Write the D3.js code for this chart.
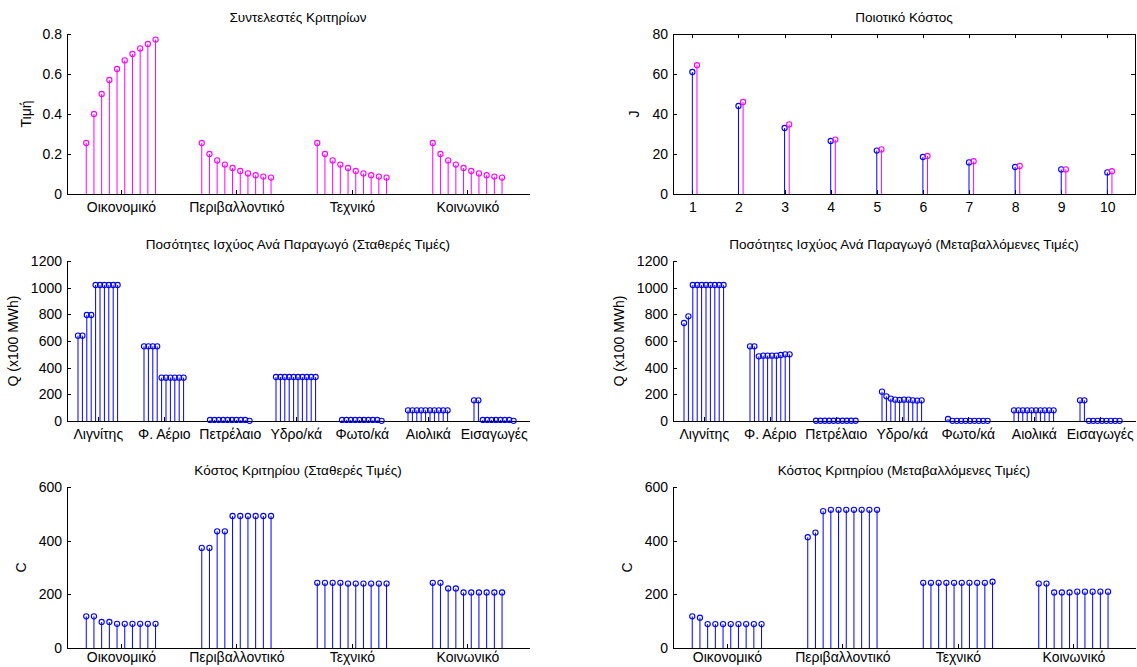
<!DOCTYPE html>
<html>
<head>
<meta charset="utf-8">
<script src="https://cdn.jsdelivr.net/npm/d3@7"></script>
<style>
  body { margin: 0; background: #fff; }
  svg { display: block; font-family: "Liberation Sans", Arial, sans-serif; }
  .axis path, .axis line { stroke: #000; shape-rendering: crispEdges; }
  .axis text { fill: #000; font-size: 14px; }
</style>
</head>
<body>
<svg id="chart"></svg>
<script>
const criteria = ["Οικονομικό", "Περιβαλλοντικό", "Τεχνικό", "Κοινωνικό"];
const producers = ["Λιγνίτης", "Φ. Αέριο", "Πετρέλαιο", "Υδρο/κά", "Φωτο/κά", "Αιολικά", "Εισαγωγές"];
const iterations = [1, 2, 3, 4, 5, 6, 7, 8, 9, 10];

// Συντελεστές Κριτηρίων
const weights = [
    [0.255, 0.40, 0.50, 0.57, 0.625, 0.668, 0.70, 0.728, 0.75, 0.772],
    [0.255, 0.20, 0.168, 0.147, 0.13, 0.115, 0.103, 0.094, 0.087, 0.082],
    [0.255, 0.20, 0.168, 0.147, 0.13, 0.115, 0.103, 0.094, 0.087, 0.082],
    [0.255, 0.20, 0.168, 0.147, 0.13, 0.115, 0.103, 0.094, 0.087, 0.082]
];
// Ποιοτικό Κόστος
const jFixed = [61, 44, 33, 26.5, 21.7, 18.5, 15.8, 13.5, 12.3, 10.8];
const jVar = [64.4, 46, 34.8, 27.2, 22.3, 19, 16.4, 14, 12.3, 11.4];
// Ποσότητες Ισχύος (Σταθερές)
const qFixed = [
    [640, 640, 795, 795, 1020, 1020, 1020, 1020, 1020, 1020],
    [560, 560, 560, 560, 325, 325, 325, 325, 325, 325],
    [8, 8, 8, 8, 8, 8, 8, 8, 8, 1],
    [330, 330, 330, 330, 330, 330, 330, 330, 330, 330],
    [8, 8, 8, 8, 8, 8, 8, 8, 8, 1],
    [80, 80, 80, 80, 80, 80, 80, 80, 80, 80],
    [155, 155, 8, 8, 8, 8, 8, 8, 8, 1]
];
// Ποσότητες Ισχύος (Μεταβαλλόμενες)
const qVar = [
    [735, 785, 1020, 1020, 1020, 1020, 1020, 1020, 1020, 1020],
    [560, 560, 485, 490, 490, 490, 490, 495, 500, 500],
    [2, 2, 2, 2, 2, 2, 2, 2, 2, 2],
    [220, 185, 168, 160, 158, 160, 160, 155, 153, 155],
    [15, 1, 1, 1, 1, 1, 1, 1, 1, 1],
    [80, 80, 80, 80, 80, 80, 80, 80, 80, 80],
    [155, 155, 1, 1, 1, 1, 1, 1, 1, 1]
];
// Κόστος Κριτηρίου
const cFixed = [
    [118, 118, 97, 97, 90, 90, 90, 90, 90, 90],
    [373, 373, 435, 435, 492, 492, 492, 492, 492, 492],
    [243, 243, 243, 243, 240, 240, 240, 240, 240, 240],
    [243, 243, 222, 222, 207, 207, 207, 207, 207, 207]
];
const cVar = [
    [118, 113, 89, 89, 89, 89, 89, 89, 89, 89],
    [413, 430, 510, 515, 515, 515, 515, 515, 515, 515],
    [243, 243, 243, 243, 243, 243, 243, 243, 243, 247],
    [240, 240, 207, 207, 207, 210, 210, 210, 210, 210]
];
const weightTicks = [0, 0.2, 0.4, 0.6, 0.8];
const jTicks = [0, 20, 40, 60, 80];
const qTicks = [0, 200, 400, 600, 800, 1000, 1200];
const cTicks = [0, 200, 400, 600];

const WIDTH = 1137, HEIGHT = 667;
const BLUE = "#0000ff", MAGENTA = "#ff00ff";
const GROUP = 15; // x units per group

const SVG = d3.select("#chart").attr("width", WIDTH).attr("height", HEIGHT);

function drawAxes(g, x, y, o) {
    g.append("g")
        .attr("class", "axis")
        .attr("transform", "translate(0," + o.bottom + ")")
        .call(d3.axisBottom(x).tickValues(o.xTicks).tickFormat(o.xFormat)
            .tickSizeInner(-4).tickSizeOuter(0).tickPadding(o.xPad || 8));
    g.append("g")
        .attr("class", "axis")
        .attr("transform", "translate(" + o.left + ",0)")
        .call(d3.axisLeft(y).tickValues(o.yTicks).tickFormat(d3.format("~g"))
            .tickSizeInner(-4).tickSizeOuter(0).tickPadding(5));
    if (o.box) {
        g.append("g").attr("class", "axis")
            .attr("transform", "translate(0," + o.top + ")")
            .call(d3.axisTop(x).tickValues(o.xTicks).tickFormat("").tickSizeInner(-4).tickSizeOuter(0));
        g.append("g").attr("class", "axis")
            .attr("transform", "translate(" + o.right + ",0)")
            .call(d3.axisRight(y).tickValues(o.yTicks).tickFormat("").tickSizeInner(-4).tickSizeOuter(0));
    }
    g.append("text")
        .attr("x", (o.left + o.right) / 2)
        .attr("y", o.top - 12)
        .attr("text-anchor", "middle")
        .attr("font-size", "13.5px")
        .attr("fill", "#000")
        .text(o.title);
    g.append("text")
        .attr("transform", "translate(" + o.yLabelX + "," + (o.top + o.bottom) / 2 + ") rotate(-90)")
        .attr("text-anchor", "middle")
        .attr("font-size", "14px")
        .attr("fill", "#000")
        .text(o.yLabel);
}

function drawStems(g, pts, x, y, color) {
    g.selectAll(null)
        .data(pts)
        .enter()
        .append("line")
        .attr("x1", d => x(d.x)).attr("x2", d => x(d.x))
        .attr("y1", y(0)).attr("y2", d => y(d.v))
        .attr("stroke", color)
        .attr("stroke-width", 1);
    g.selectAll(null)
        .data(pts)
        .enter()
        .append("circle")
        .attr("cx", d => x(d.x))
        .attr("cy", d => y(d.v))
        .attr("r", 2.6)
        .attr("fill", "none")
        .attr("stroke", color)
        .attr("stroke-width", 1.1);
}

function groupedPanel(o) {
    const g = SVG.append("g");
    const n = o.categories.length;
    const x = d3.scaleLinear().domain([0, n * GROUP]).range([o.left, o.right]);
    const y = d3.scaleLinear().domain(o.yDomain).range([o.bottom, o.top]);
    o.xTicks = d3.range(n).map(i => i * GROUP + 7);
    o.xFormat = (d, i) => o.categories[i];
    drawAxes(g, x, y, o);
    const pts = [];
    o.values.forEach((row, gi) => row.forEach((v, i) => pts.push({ x: gi * GROUP + 2.5 + i, v: v })));
    drawStems(g, pts, x, y, o.color);
}

groupedPanel({
    left: 67, right: 529, top: 34, bottom: 194,
    categories: criteria, values: weights, yDomain: [0, 0.8], yTicks: weightTicks,
    title: "Συντελεστές Κριτηρίων", yLabel: "Τιμή", yLabelX: 31, color: MAGENTA
});
groupedPanel({
    left: 67, right: 529, top: 261, bottom: 421,
    categories: producers, values: qFixed, yDomain: [0, 1200], yTicks: qTicks,
    title: "Ποσότητες Ισχύος Ανά Παραγωγό (Σταθερές Τιμές)", yLabel: "Q (x100 MWh)", yLabelX: 18, color: BLUE
});
groupedPanel({
    left: 673, right: 1135, top: 261, bottom: 421,
    categories: producers, values: qVar, yDomain: [0, 1200], yTicks: qTicks,
    title: "Ποσότητες Ισχύος Ανά Παραγωγό (Μεταβαλλόμενες Τιμές)", yLabel: "Q (x100 MWh)", yLabelX: 624, color: BLUE
});
groupedPanel({
    left: 67, right: 529, top: 487, bottom: 648, xPad: 4,
    categories: criteria, values: cFixed, yDomain: [0, 600], yTicks: cTicks,
    title: "Κόστος Κριτηρίου (Σταθερές Τιμές)", yLabel: "C", yLabelX: 26, color: BLUE
});
groupedPanel({
    left: 673, right: 1135, top: 487, bottom: 648, xPad: 4,
    categories: criteria, values: cVar, yDomain: [0, 600], yTicks: cTicks,
    title: "Κόστος Κριτηρίου (Μεταβαλλόμενες Τιμές)", yLabel: "C", yLabelX: 632, color: BLUE
});

// Ποιοτικό Κόστος
(function () {
    const o = {
        left: 673, right: 1135, top: 34, bottom: 194, box: true,
        yTicks: jTicks, xTicks: iterations, xFormat: d3.format("d"),
        title: "Ποιοτικό Κόστος", yLabel: "J", yLabelX: 639
    };
    const g = SVG.append("g");
    const x = d3.scaleLinear().domain([0.58, 10.6]).range([o.left, o.right]);
    const y = d3.scaleLinear().domain([0, 80]).range([o.bottom, o.top]);
    drawAxes(g, x, y, o);
    drawStems(g, iterations.map((it, i) => ({ x: it, v: jFixed[i] })), x, y, BLUE);
    drawStems(g, iterations.map((it, i) => ({ x: it + 0.1, v: jVar[i] })), x, y, MAGENTA);
})();
</script>
</body>
</html>
